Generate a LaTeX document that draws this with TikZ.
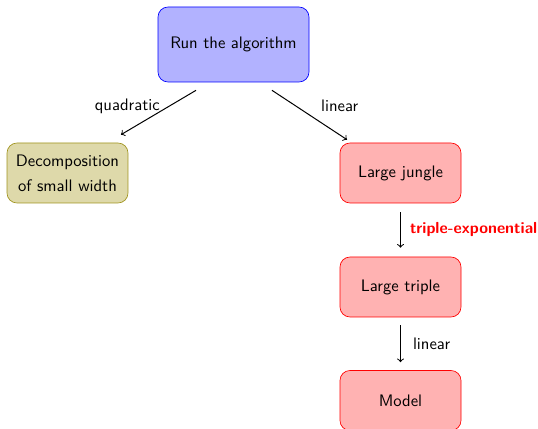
\documentclass[tikz,border=0pt]{standalone}
\usetikzlibrary{positioning}
\definecolor{khakifill}{RGB}{222,217,170}
\definecolor{khakiline}{RGB}{160,148,30}
\begin{document}
\begin{tikzpicture}[x=0.6pt,y=-0.6pt,
  every node/.style={font=\sffamily},
  box/.style={rounded corners=6pt, inner sep=2pt, align=center, minimum width=72.6pt, minimum height=36pt},
  bluebox/.style={box, draw=blue, fill=blue!30, minimum width=90.6pt, minimum height=45pt},
  olivebox/.style={box, draw=khakiline, fill=khakifill},
  redbox/.style={box, draw=red, fill=red!30},
  arr/.style={->, semithick},
  lbl/.style={font=\sffamily, inner sep=0pt}]
  \useasboundingbox (0,0) rectangle (538,429);

  \node[bluebox] (run) at (233.5,44.5) {Run the algorithm};
  \node[olivebox] (dec) at (67.5,173) {Decomposition\\[3pt]of small width};
  \node[redbox] (jungle) at (400.5,173) {Large jungle};
  \node[redbox] (triple) at (400.5,287) {Large triple};
  \node[redbox] (model) at (400.5,400.5) {Model};

  \draw[arr] ([xshift=-37.5*0.6pt,yshift=-8*0.6pt]run.south) -- ([xshift=53.5*0.6pt,yshift=8*0.6pt]dec.north)
    node[lbl, pos=0.356, anchor=east, xshift=-9*0.6pt] {quadratic};
  \draw[arr] ([xshift=38.5*0.6pt,yshift=-8*0.6pt]run.south) -- ([xshift=-53.5*0.6pt,yshift=3*0.6pt]jungle.north)
    node[lbl, pos=0.314, anchor=west, xshift=25*0.6pt] {linear};
  \draw[arr] ([yshift=-9*0.6pt]jungle.south) -- ([yshift=9*0.6pt]triple.north)
    node[lbl, midway, anchor=west, xshift=9*0.6pt, text=red,
         font=\sffamily\bfseries\fontsize{9.6pt}{12pt}\selectfont] {triple-exponential};
  \draw[arr] ([yshift=-8*0.6pt]triple.south) -- ([yshift=8*0.6pt]model.north)
    node[lbl, midway, anchor=west, xshift=12*0.6pt] {linear};
\end{tikzpicture}
\end{document}
